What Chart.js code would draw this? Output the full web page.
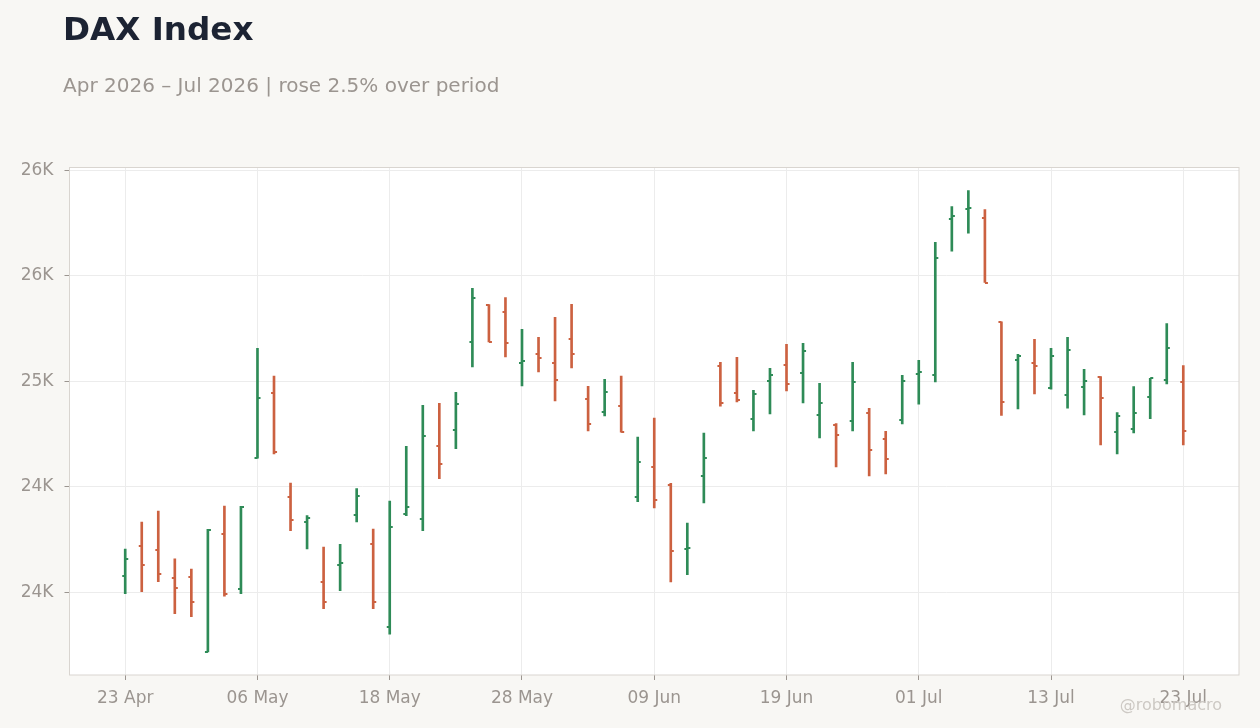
<!DOCTYPE html>
<html>
<head>
<meta charset="utf-8">
<script src="https://cdn.jsdelivr.net/npm/chart.js@4.4.1/dist/chart.umd.min.js"></script>
<style>
html,body{margin:0;padding:0;background:#f8f7f4;}
#wrap{position:relative;width:1260px;height:728px;overflow:hidden;background:#f8f7f4;font-family:"DejaVu Sans",sans-serif;}
#c{position:absolute;left:0;top:0;}
.t{position:absolute;white-space:nowrap;line-height:1;}
#title{left:63px;top:13.4px;font-size:32.6px;font-weight:bold;color:#1c2333;}
#sub{left:63px;top:74.8px;font-size:20px;color:#9b9590;}
#wm{right:38px;top:696.5px;font-size:16px;color:#cdc9c4;}
</style>
</head>
<body>
<div id="wrap">
<canvas id="c" width="1260" height="728"></canvas>
<div class="t" id="title">DAX Index</div>
<div class="t" id="sub">Apr 2026 – Jul 2026 | rose 2.5% over period</div>
<div class="t" id="wm">@robomacro</div>
</div>
<script>
// ---- data ----
const dates = ['23 Apr','24 Apr','27 Apr','28 Apr','29 Apr','30 Apr','04 May','05 May','06 May','07 May',
  '08 May','11 May','12 May','13 May','14 May','15 May','18 May','19 May','20 May','21 May',
  '22 May','25 May','26 May','27 May','28 May','29 May','01 Jun','02 Jun','03 Jun','04 Jun',
  '05 Jun','08 Jun','09 Jun','10 Jun','11 Jun','12 Jun','15 Jun','16 Jun','17 Jun','18 Jun',
  '19 Jun','22 Jun','23 Jun','24 Jun','25 Jun','26 Jun','29 Jun','30 Jun','01 Jul','02 Jul',
  '03 Jul','06 Jul','07 Jul','08 Jul','09 Jul','10 Jul','13 Jul','14 Jul','15 Jul','16 Jul',
  '17 Jul','20 Jul','21 Jul','22 Jul','23 Jul'];
const opens = [24079,24221,24202,24069,24074,23719,24277,24017,24635,24945,
  24452,24334,24050,24131,24367,24230,23837,24372,24348,24694,
  24769,25186,25363,25328,25087,25129,25087,25200,24916,24855,
  24883,24452,24594,24509,24206,24552,25074,24945,24821,25001,
  25077,25039,24840,24793,24812,24850,24727,24817,25034,25030,
  25768,25814,25773,25282,25101,25086,24968,24935,24973,25020,
  24760,24774,24926,25006,24998];
const highs = [24205,24333,24385,24158,24110,24298,24408,24407,25156,25024,
  24517,24364,24214,24227,24492,24300,24432,24692,24886,24896,
  24948,25440,25363,25397,25246,25208,25303,25364,24976,25009,
  25024,24735,24825,24516,24328,24754,25090,25113,24957,25061,
  25175,25180,24990,24800,25090,24872,24763,25028,25099,25658,
  25828,25904,25814,25282,25128,25199,25156,25208,25057,25022,
  24852,24975,25014,25273,25074];
const lows = [23993,24003,24050,23899,23885,23717,23981,23993,24635,24656,
  24292,24206,23922,24008,24334,23922,23801,24363,24292,24538,
  24680,25068,25186,25115,24978,25044,24907,25063,24765,24836,
  24759,24429,24400,24049,24083,24424,24882,24902,24765,24845,
  24954,24897,24732,24594,24765,24552,24561,24798,24892,24997,
  25617,25702,25468,24838,24869,24940,24963,24873,24840,24698,
  24656,24755,24823,24987,24698];
const closes = [24159,24131,24088,24022,23956,24296,23992,24405,24921,24665,
  24344,24353,23956,24140,24457,23956,24310,24405,24741,24609,
  24892,25394,25186,25181,25096,25110,25006,25129,24796,24949,
  24759,24617,24438,24197,24211,24637,24897,24910,24940,25030,
  24987,25143,24897,24746,24997,24675,24632,25001,25044,25582,
  25782,25820,25468,24902,25121,25072,25120,25148,25001,24921,
  24836,24850,25015,25157,24765];
const xTickIdx = [0,8,16,24,32,40,48,56,64];
const yTickValues = [24000,24500,25000,25500,26000];
const yTickLabels = ['24K','24K','25K','26K','26K'];

// ---- styles ----
const UP = '#2e8b57', DOWN = '#cc6140';
const TXT = '#9b9590', GRID = '#ececec', FRAME = '#d9d5d0';
const FONT = '"DejaVu Sans", sans-serif';
const isUp = i => closes[i] >= opens[i];

function tickImg(color, side){
  const cv = document.createElement('canvas');
  cv.width = 8; cv.height = 2;
  const g = cv.getContext('2d');
  g.fillStyle = color;
  g.fillRect(side < 0 ? 1 : 4, 0, 3, 2);
  return cv;
}
const openUp = tickImg(UP,-1), openDn = tickImg(DOWN,-1);
const closeUp = tickImg(UP,1), closeDn = tickImg(DOWN,1);

const frame = {
  id: 'frame',
  beforeDraw(c){
    const {ctx, chartArea:a} = c;
    ctx.save();
    ctx.fillStyle = '#f8f7f4';
    ctx.fillRect(0,0,c.width,c.height);
    ctx.fillStyle = '#ffffff';
    ctx.fillRect(a.left,a.top,a.right-a.left,a.bottom-a.top);
    ctx.restore();
  },
  beforeDatasetsDraw(c){
    const {ctx, chartArea:a} = c;
    ctx.save();
    ctx.strokeStyle = FRAME; ctx.lineWidth = 1;
    ctx.strokeRect(a.left, a.top, a.right-a.left, a.bottom-a.top);
    ctx.restore();
  }
};

const idx = dates.map((d,i)=>i);
new Chart(document.getElementById('c'), {
  data: {
    datasets: [
      { type:'bar', data: idx.map(i=>({x:i, y:[lows[i], highs[i]]})),
        backgroundColor: ctx => isUp(ctx.dataIndex) ? UP : DOWN,
        barThickness: 2, grouped: false, borderWidth: 0, order: 2 },
      { type:'scatter', data: idx.map(i=>({x:i, y:opens[i]})),
        pointStyle: ctx => isUp(ctx.dataIndex) ? openUp : openDn,
        pointRadius: 3, pointHoverRadius: 3, order: 1 },
      { type:'scatter', data: idx.map(i=>({x:i, y:closes[i]})),
        pointStyle: ctx => isUp(ctx.dataIndex) ? closeUp : closeDn,
        pointRadius: 3, pointHoverRadius: 3, order: 1 }
    ]
  },
  options: {
    responsive: false, animation: false, devicePixelRatio: 1,
    layout: { padding: { left: 0, right: 21, top: 167.5, bottom: 0 } },
    plugins: { legend: { display: false }, tooltip: { enabled: false }, title: { display: false } },
    scales: {
      x: {
        type: 'linear', min: -3.37, max: 67.37, offset: false,
        afterBuildTicks: s => { s.ticks = xTickIdx.map(v => ({ value: v })); },
        afterFit: s => { s.height = 53; },
        ticks: { callback: v => dates[v], color: TXT, font: { family: FONT, size: 17 }, padding: 8, autoSkip: false, maxRotation: 0 },
        grid: { offset: false, color: GRID, tickColor: TXT, tickLength: 5, lineWidth: 1 },
        border: { display: false }
      },
      y: {
        min: 23608, max: 26013,
        afterBuildTicks: s => { s.ticks = yTickValues.map(v => ({ value: v })); },
        afterFit: s => { s.width = 69.5; },
        ticks: { callback: (v, i) => yTickLabels[i], color: TXT, font: { family: FONT, size: 17 }, padding: 11, autoSkip: false },
        grid: { color: GRID, tickColor: TXT, tickLength: 5, lineWidth: 1 },
        border: { display: false }
      }
    }
  },
  plugins: [frame]
});
</script>
</body>
</html>
